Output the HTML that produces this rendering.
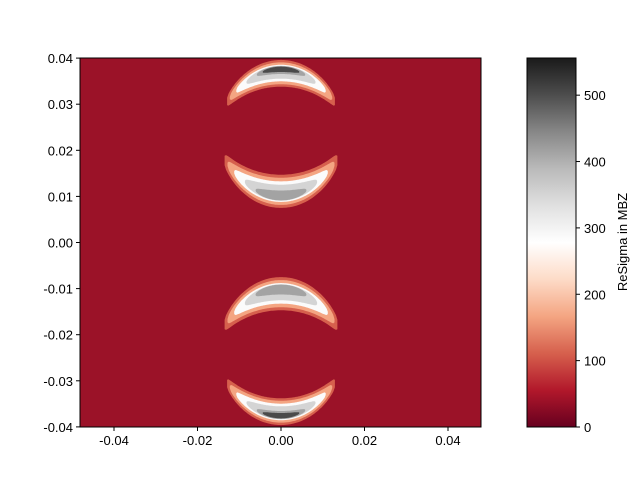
<!DOCTYPE html>
<html><head><meta charset="utf-8"><style>
body{margin:0;background:#fff;font-family:"Liberation Sans","DejaVu Sans",sans-serif}
svg text{font-family:"Liberation Sans","DejaVu Sans",sans-serif;font-size:13px;fill:#000}
</style></head><body>
<svg id="chart" width="640" height="480" xmlns="http://www.w3.org/2000/svg">
<defs><linearGradient id="cmap" x1="0" y1="1" x2="0" y2="0">
<stop offset="0" stop-color="#67001f"/><stop offset="0.1" stop-color="#b2182b"/><stop offset="0.2" stop-color="#d6604d"/><stop offset="0.3" stop-color="#f4a582"/><stop offset="0.4" stop-color="#fddbc7"/><stop offset="0.5" stop-color="#ffffff"/><stop offset="0.6" stop-color="#e0e0e0"/><stop offset="0.7" stop-color="#bababa"/><stop offset="0.8" stop-color="#878787"/><stop offset="0.9" stop-color="#4d4d4d"/><stop offset="1" stop-color="#1a1a1a"/>
</linearGradient>
<clipPath id="pc"><rect x="80" y="58" width="401" height="369"/></clipPath></defs>
<g id="plot"></g><g id="axes"></g>
</svg>
<script>
const tipY=[0.0306,0.0178,-0.0178,-0.0306];
const apexY=[0.0367,0.0111,-0.0111,-0.0367];
const halfThick=[0.0029,0.0036,0.0036,0.0029];
const halfWidth=[0.0129,0.0135,0.0135,0.0129];
const maxLevel=[6,5,5,6];
const levelColors=['#d6604d','#f4a582','#fbfbfb','#d4d4d4','#a3a3a3','#4a4a4a'];
const thickKeep=[1,0.82,0.62,0.48,0.3,0.2];
const tipShrink=[0,0.05,0.17,0.36,0.55,0.66];
const outerShift=[0,0,0.02,0.08,0.25,0.3];
const xTicks=[-0.04,-0.02,0,0.02,0.04];
const yTicks=[0.04,0.03,0.02,0.01,0,-0.01,-0.02,-0.03,-0.04];
const cbTicks=[0,100,200,300,400,500];
const NS='http://www.w3.org/2000/svg';
const L=80,R=481,T=58,B=427;
const xs=v=>281+v*4175, ys=v=>242.5-v*4610;
const cbx0=527,cbx1=576,cbT=58,cbB=427,cbMax=556;
const cs=v=>cbB-v/cbMax*(cbB-cbT);
function mk(tag,attrs,parent){const e=document.createElementNS(NS,tag);for(const k in attrs)e.setAttribute(k,attrs[k]);parent.appendChild(e);return e;}
const plot=document.getElementById('plot'),axes=document.getElementById('axes');
const bg=mk('rect',{x:L,y:T,width:R-L,height:B-T,fill:'#9b1228'},plot);


const g=mk('g',{'clip-path':'url(#pc)'},plot);
for(let c=0;c<tipY.length;c++){
  const hw=halfWidth[c],s=apexY[c]-tipY[c],sg=Math.sign(s),as=Math.abs(s);
  const Rad=(hw*hw+as*as)/(2*as);
  const yc=x=>apexY[c]-sg*(Rad-Math.sqrt(Math.max(0,Rad*Rad-x*x)));
  const H=halfThick[c];
  for(let l=0;l<maxLevel[c];l++){
    const hl=hw*(1-tipShrink[l]),k=thickKeep[l],e=l===0?0.28:0.12;
    const off=sg*H*outerShift[l];
    const top=[],bot=[];
    for(let i=0;i<=80;i++){const x=-hl+2*hl*i/80;
      const h=H*k*(e+(1-e)*Math.sqrt(Math.max(0,1-(x/hl)*(x/hl))));
      const yy=yc(x)+off;
      top.push(xs(x).toFixed(1)+','+ys(yy+h).toFixed(1));
      bot.push(xs(x).toFixed(1)+','+ys(yy-h).toFixed(1));}
    const p=mk('polygon',{points:top.concat(bot.reverse()).join(' '),fill:levelColors[l]},g);
    
    
  }
}
mk('rect',{x:L,y:T,width:R-L,height:B-T,fill:'none',stroke:'#000','stroke-width':1},axes);
xTicks.forEach(v=>{const x=xs(v);mk('line',{x1:x,x2:x,y1:B,y2:B+4,stroke:'#000'},axes);
 const t=mk('text',{x:x,y:B+18,'text-anchor':'middle'},axes);t.textContent=v.toFixed(2);
 
 });
yTicks.forEach(v=>{const y=ys(v);mk('line',{x1:L-4,x2:L,y1:y,y2:y,stroke:'#000'},axes);
 const t=mk('text',{x:L-7,y:y+5,'text-anchor':'end'},axes);t.textContent=(Math.abs(v)<1e-9?0:v).toFixed(2);
 
 });
const cb=mk('rect',{x:cbx0,y:cbT,width:cbx1-cbx0,height:cbB-cbT,fill:'url(#cmap)',stroke:'#000'},axes);


cbTicks.forEach(v=>{const y=cs(v);mk('line',{x1:cbx1,x2:cbx1+4,y1:y,y2:y,stroke:'#000'},axes);
 const t=mk('text',{x:cbx1+8,y:y+5},axes);t.textContent=v;
 
 });
const lab=mk('text',{x:0,y:0,transform:'translate(627,242) rotate(-90)','text-anchor':'middle'},axes);
lab.textContent='ReSigma in MBZ';


</script>
</body></html>
